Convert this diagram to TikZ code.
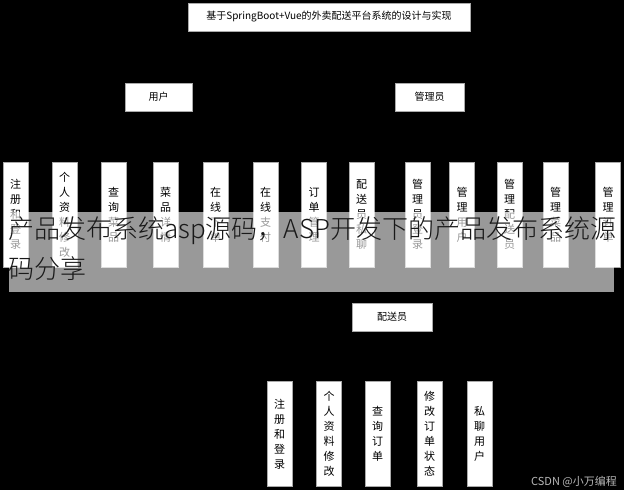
\documentclass[tikz,border=0pt]{standalone}
\usepackage{fontspec}
\setmainfont{Noto Sans CJK SC}
\newfontfamily\thinfont{Noto Sans CJK SC Light}
\usepackage{tikz}
\usetikzlibrary{positioning}
\definecolor{boxEdge}{RGB}{170,170,170}
\definecolor{markGray}{RGB}{185,185,185}
\definecolor{bannerInk}{RGB}{25,25,25}

\tikzset{
    box/.style={draw=boxEdge, fill=white, inner sep=0pt, font=\fontsize{10}{12}\selectfont},
    rolebox/.style={box, minimum height=28pt},
    vbox/.style={box, minimum width=25pt, minimum height=105pt, align=center, font=\fontsize{11}{15}\selectfont}
}

\begin{document}
\begin{tikzpicture}[x=1pt, y=-1pt]
    % Background
    \fill[black] (0,0) rectangle (624,490);
    \useasboundingbox (0,0) rectangle (624,490);

    % Title and roles
    \node[rolebox, minimum width=282pt] (title) at (329,17) {基于SpringBoot+Vue的外卖配送平台系统的设计与实现};
    \node[rolebox, minimum width=67pt] (user) at (158.5,97) {用户};
    \node[rolebox, minimum width=69pt] (admin) at (429.5,97) {管理员};
    \node[rolebox, minimum width=80pt] (courier) at (392,317) {配送员};

    % User and admin functions
    \foreach \i/\x/\txt in {
        1/15.5/注\\册\\和\\登\\录,
        2/64.5/个\\人\\资\\料\\修\\改,
        3/113.5/查\\询\\菜\\品,
        4/165.5/菜\\品\\详\\情,
        5/215.5/在\\线\\下\\单,
        6/265.5/在\\线\\支\\付,
        7/314/订\\单\\管\\理,
        8/361.5/配\\送\\员\\私\\聊,
        9/417.5/管\\理\\员\\登\\录,
        10/462/管\\理\\用\\户,
        11/509.5/管\\理\\配\\送\\员,
        12/555.5/管\\理\\菜\\品,
        13/608/管\\理\\订\\单}
        \node[vbox] (f\i) at (\x,214.5) {\txt};

    % Courier functions
    \foreach \i/\x/\txt in {
        1/279.5/注\\册\\和\\登\\录,
        2/329/个\\人\\资\\料\\修\\改,
        3/377.5/查\\询\\订\\单,
        4/429.5/修\\改\\订\\单\\状\\态,
        5/479.5/私\\聊\\用\\户}
        \node[vbox] (c\i) at (\x,434) {\txt};

    % Overlay banner
    \fill[white, fill opacity=0.6] (9,212) rectangle (614,292);
    \node[anchor=north west, inner sep=0pt, align=left, text=bannerInk,
          font=\thinfont\fontsize{26}{40}\selectfont] (banner) at (8,216)
          {产品发布系统asp源码，ASP开发下的产品发布系统源\\码分享};

    % Watermark
    \node[anchor=west, inner sep=0pt, text=markGray, font=\fontsize{11}{13}\selectfont] (mark) at (531,482) {CSDN @小万编程};
\end{tikzpicture}
\end{document}
